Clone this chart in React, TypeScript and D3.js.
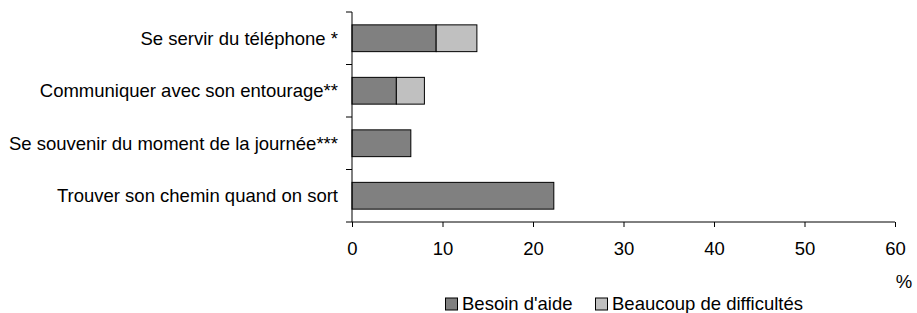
import { useEffect, useRef } from 'react';
import * as d3 from 'd3';

const categories = [
  'Se servir du téléphone *',
  'Communiquer avec son entourage**',
  'Se souvenir du moment de la journée***',
  'Trouver son chemin quand on sort',
];
const besoinAide = [9.3, 4.9, 6.5, 22.3];
const difficultes = [4.5, 3.1, 0, 0];
const seriesNames = ["Besoin d'aide", 'Beaucoup de difficultés'];
const seriesColors = ['#808080', '#c0c0c0'];
const xTicks = [0, 10, 20, 30, 40, 50, 60];

const App = () => {
  const svgRef = useRef<SVGSVGElement>(null);

  useEffect(() => {
    const svg = d3.select(svgRef.current);
    svg.selectAll('*').remove();
    const font = 'Liberation Sans, Arial, sans-serif';
    const fs = '18.5px';

    const x = d3.scaleLinear().domain([0, 60]).range([352, 895]);
    const y = d3.scaleBand().domain(categories).range([12, 222]).paddingInner(0.49).paddingOuter(0.245);

    const rows = categories.map((c, i) => ({ c, a: besoinAide[i], b: difficultes[i] }));

    // bars
    const g = svg.append('g');
    g.selectAll('.a')
      .data(rows)
      .enter().append('rect')
      .attr('x', x(0))
      .attr('y', d => y(d.c)!)
      .attr('width', d => x(d.a) - x(0))
      .attr('height', y.bandwidth())
      .attr('fill', seriesColors[0])
      .attr('stroke', '#000')
      .attr('stroke-width', 1);
    g.selectAll('.b')
      .data(rows.filter(d => d.b > 0))
      .enter().append('rect')
      .attr('x', d => x(d.a))
      .attr('y', d => y(d.c)!)
      .attr('width', d => x(d.a + d.b) - x(d.a))
      .attr('height', y.bandwidth())
      .attr('fill', seriesColors[1])
      .attr('stroke', '#000')
      .attr('stroke-width', 1);

    // y axis: line with ticks at band boundaries
    const step = y.step();
    const bounds = d3.range(categories.length + 1).map(i => 12 + i * step);
    svg.append('line')
      .attr('x1', x(0)).attr('x2', x(0))
      .attr('y1', 12).attr('y2', 222)
      .attr('stroke', '#000');
    svg.selectAll('.ytick')
      .data(bounds)
      .enter().append('line')
      .attr('x1', x(0) - 6).attr('x2', x(0))
      .attr('y1', d => d).attr('y2', d => d)
      .attr('stroke', '#000');
    svg.selectAll('.ylab')
      .data(categories)
      .enter().append('text')
      .attr('x', 338)
      .attr('y', d => y(d)! + y.bandwidth() / 2)
      .attr('dy', '0.35em')
      .attr('text-anchor', 'end')
      .style('font-family', font)
      .style('font-size', fs)
      .text(d => d);

    // x axis
    const xAxis = svg.append('g')
      .attr('transform', 'translate(0,222)')
      .call(d3.axisBottom(x).tickValues(xTicks).tickSize(5).tickPadding(15).tickFormat(d3.format('d')));
    xAxis.select('.domain').attr('d', `M${x(0)},0H${x(60)}`);
    xAxis.selectAll('text')
      .style('font-family', font)
      .style('font-size', fs)
      .attr('fill', '#000');

    svg.append('text')
      .attr('x', 904)
      .attr('y', 288)
      .attr('text-anchor', 'middle')
      .style('font-family', font)
      .style('font-size', fs)
      .text('%');

    // legend
    const legendX = [445, 595];
    const lg = svg.selectAll('.leg')
      .data(seriesNames)
      .enter().append('g')
      .attr('transform', (_, i) => `translate(${legendX[i]},304)`);
    lg.append('rect')
      .attr('x', 0.5).attr('y', -6)
      .attr('width', 12).attr('height', 12)
      .attr('fill', (_, i) => seriesColors[i])
      .attr('stroke', '#000');
    lg.append('text')
      .attr('x', 17)
      .attr('y', 0)
      .attr('dy', '0.35em')
      .style('font-family', font)
      .style('font-size', fs)
      .text(d => d);
  }, []);

  return <svg ref={svgRef} width={917} height={313} style={{ display: 'block', position: 'absolute', left: 0, top: 0 }} />;
};

export default App;
